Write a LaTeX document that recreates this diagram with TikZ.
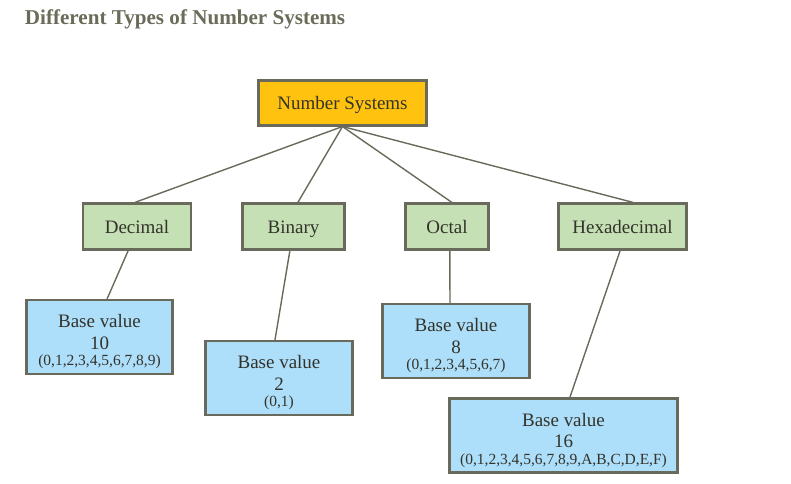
\documentclass[tikz,border=0pt]{standalone}
\usepackage{fontspec}
\setmainfont{Liberation Serif}
\usetikzlibrary{positioning}

\definecolor{nsorange}{HTML}{FFC20E}
\definecolor{typegreen}{HTML}{C5E0B4}
\definecolor{baseblue}{HTML}{ADDEFA}
\definecolor{edgegray}{HTML}{6A6A5C}
\definecolor{titlegray}{HTML}{6B6B5A}
\definecolor{textdark}{HTML}{33332A}

\begin{document}
\begin{tikzpicture}[x=0.025cm, y=-0.025cm,
  box/.style={draw=edgegray, line width=1.6pt, text=textdark, align=center,
    inner sep=1pt},
  root/.style={box, fill=nsorange, minimum width=4.2cm, minimum height=1.12cm,
    font=\fontsize{13.5}{16}\selectfont, text height=2ex, text depth=0.1ex},
  kind/.style={box, fill=typegreen, minimum height=1.15cm,
    font=\fontsize{13.5}{16}\selectfont, text height=2.2ex, text depth=0ex},
  base/.style={box, fill=baseblue, minimum height=1.85cm,
    font=\fontsize{13.5}{15.5}\selectfont},
  link/.style={draw=edgegray, line width=1pt}
]
\useasboundingbox (0,0) rectangle (791,484);

\node[anchor=west, text=titlegray, font=\fontsize{15}{18}\selectfont\bfseries]
  (title) at (20,19) {Different Types of Number Systems};

\node[root] (ns) at (342.5,103) {Number Systems};

\node[kind, minimum width=2.7cm] (dec) at (137,226.5) {Decimal};
\node[kind, minimum width=2.55cm] (bin) at (293.5,226.5) {Binary};
\node[kind, minimum width=2.07cm] (oct) at (447,226.5) {Octal};
\node[kind, minimum width=3.2cm] (hex) at (622.5,226.5) {Hexadecimal};

\node[base, minimum width=3.65cm] (b10) at (99.5,337)
  {\rule{0pt}{16pt}Base value\\10\\[-4pt]{\fontsize{11}{13}\selectfont (0,1,2,3,4,5,6,7,8,9)}};
\node[base, minimum width=3.67cm] (b2) at (279,378)
  {\rule{0pt}{16pt}Base value\\2\\[-4pt]{\fontsize{11}{13}\selectfont (0,1)}};
\node[base, minimum width=3.67cm] (b8) at (456,341)
  {\rule{0pt}{16pt}Base value\\8\\[-4pt]{\fontsize{11}{13}\selectfont (0,1,2,3,4,5,6,7)}};
\node[base, minimum width=5.7cm] (b16) at (563.5,435.5)
  {\rule{0pt}{16pt}Base value\\16\\[-4pt]{\fontsize{11}{13}\selectfont (0,1,2,3,4,5,6,7,8,9,A,B,C,D,E,F)}};

% root to the four kinds
\draw[link] (ns.south) -- ([xshift=-0.05cm]dec.north);
\draw[link] (ns.south) -- ([xshift=0.11cm]bin.north);
\draw[link] (ns.south) -- ([xshift=0.12cm]oct.north);
\draw[link] (ns.south) -- ([xshift=0.26cm]hex.north);

% kinds to base values
\draw[link] ([xshift=-0.22cm]dec.south) -- ([xshift=0.19cm]b10.north);
\draw[link] ([xshift=-0.09cm]bin.south) -- ([xshift=-0.1cm]b2.north);
\draw[link] ([xshift=0.07cm]oct.south) -- ([xshift=-0.15cm]b8.north);
\draw[link] ([xshift=-0.06cm]hex.south) -- ([xshift=0.16cm]b16.north);
\end{tikzpicture}
\end{document}
